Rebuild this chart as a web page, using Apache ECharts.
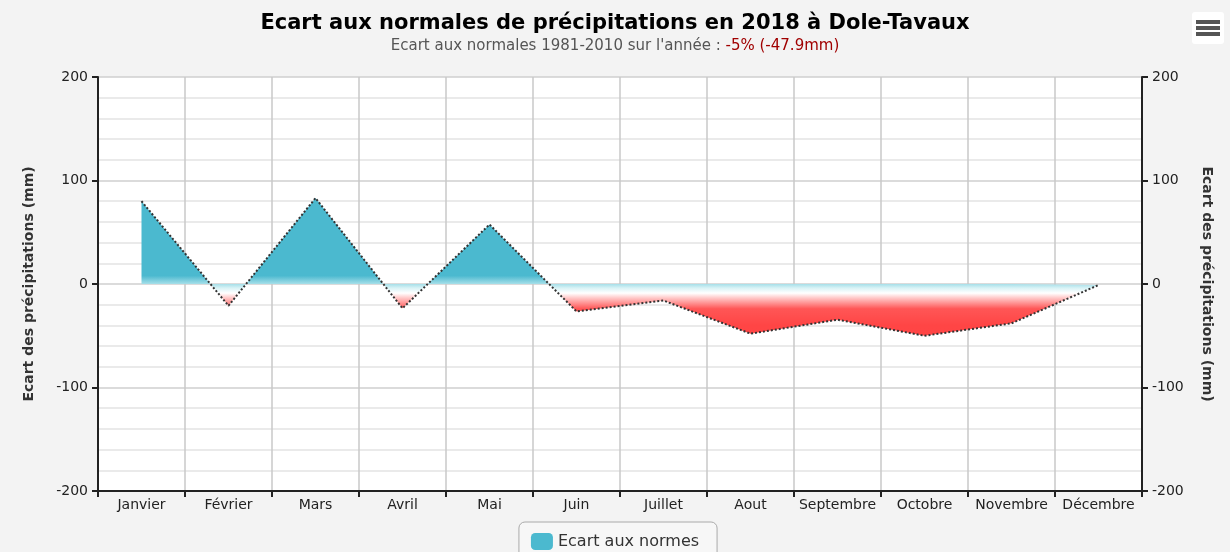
<!DOCTYPE html>
<html>
<head>
<meta charset="utf-8">
<script src="https://cdn.jsdelivr.net/npm/echarts@6/dist/echarts.min.js"></script>
<style>
html, body { margin: 0; padding: 0; background: #f3f3f3; }
#chart1 { width: 1230px; height: 552px; }
</style>
</head>
<body>
<div id="chart1"></div>
<script>
var mois = ['Janvier', 'Février', 'Mars', 'Avril', 'Mai', 'Juin', 'Juillet', 'Aout', 'Septembre', 'Octobre', 'Novembre', 'Décembre'];
var ecart = [80, -21, 83, -23.5, 57.5, -26.5, -16, -48, -34.5, -50, -38, -1];
var yMin = -200, yMax = 200, yStep = 100;

var police = 'DejaVu Sans';
var myChart1 = echarts.init(document.getElementById('chart1'));

// gradient en pixels : bleu au-dessus de 0, rouge en dessous
var degrade = new echarts.graphic.LinearGradient(0, 77, 0, 491, [
    { offset: 0, color: '#4bb9cf' },
    { offset: 0.48, color: '#4bb9cf' },
    { offset: 0.5, color: '#a6dfe9' },
    { offset: 0.51, color: '#d9f3f6' },
    { offset: 0.522, color: '#ffffff' },
    { offset: 0.535, color: '#ffc2c2' },
    { offset: 0.56, color: '#ff5656' },
    { offset: 0.6, color: '#ff4545' },
    { offset: 1, color: '#ff4040' }
], true);

function axeY(pos) {
    return {
        type: 'value',
        position: pos,
        min: yMin,
        max: yMax,
        interval: yStep,
        name: 'Ecart des précipitations (mm)',
        nameLocation: 'middle',
        nameRotate: pos === 'left' ? 90 : -90,
        nameGap: pos === 'left' ? 62 : 58,
        nameTextStyle: { fontFamily: police, fontWeight: 'bold', fontSize: 14, color: '#333' },
        axisLine: { show: true, onZero: false, lineStyle: { color: '#222', width: 2 } },
        axisTick: { show: true, length: 6, lineStyle: { color: '#222', width: 2 } },
        axisLabel: { fontFamily: police, fontSize: 14, color: '#222', margin: 10 },
        splitLine: { show: pos === 'left', lineStyle: { color: '#cfcfcf', width: 1.5 } },
        minorTick: { show: false, splitNumber: 5 },
        minorSplitLine: { show: pos === 'left', lineStyle: { color: '#e3e3e3', width: 1.5 } }
    };
}

myChart1.setOption({
    backgroundColor: '#f3f3f3',
    title: {
        text: 'Ecart aux normales de précipitations en 2018 à Dole-Tavaux',
        subtext: "{g|Ecart aux normales 1981-2010 sur l'année : }{r|-5% (-47.9mm)}",
        left: 'center',
        top: 8,
        itemGap: 5,
        textStyle: { fontFamily: police, fontWeight: 'bold', fontSize: 21, color: '#000' },
        subtextStyle: {
            rich: {
                g: { fontFamily: police, fontSize: 15, color: '#555' },
                r: { fontFamily: police, fontSize: 15, color: '#a00000' }
            }
        }
    },
    grid: {
        left: 98, right: 88, top: 77, bottom: 61,
        show: true, backgroundColor: '#ffffff', borderWidth: 0
    },
    legend: {
        bottom: -16,
        left: 'center',
        data: ['Ecart aux normes'],
        icon: 'roundRect',
        itemWidth: 22,
        itemHeight: 17,
        itemGap: 8,
        borderColor: '#aaa',
        borderWidth: 1,
        borderRadius: 6,
        padding: [11, 18, 18, 12],
        backgroundColor: '#f7f7f7',
        textStyle: { fontFamily: police, fontSize: 16, color: '#333' }
    },
    xAxis: {
        type: 'category',
        data: mois,
        boundaryGap: true,
        axisLine: { onZero: false, lineStyle: { color: '#222', width: 2 } },
        axisTick: { show: true, length: 6, lineStyle: { color: '#222', width: 2 } },
        axisLabel: { fontFamily: police, fontSize: 14, color: '#222', margin: 7, interval: 0 },
        splitLine: { show: true, lineStyle: { color: '#c8c8c8', width: 1.5 } }
    },
    yAxis: [axeY('left'), axeY('right')],
    series: [{
        name: 'Ecart aux normes',
        type: 'line',
        data: ecart,
        symbol: 'none',
        itemStyle: { color: '#4bb9cf' },
        lineStyle: { color: '#333', width: 2, type: 'dotted' },
        areaStyle: { color: degrade, opacity: 1 }
    }],
    graphic: [{
        type: 'group',
        right: 6,
        top: 12,
        children: [
            { type: 'rect', shape: { x: 0, y: 0, width: 32, height: 32, r: 3 }, style: { fill: '#ffffff' } },
            { type: 'rect', shape: { x: 4, y: 8, width: 24, height: 4 }, style: { fill: '#555' } },
            { type: 'rect', shape: { x: 4, y: 14, width: 24, height: 4 }, style: { fill: '#555' } },
            { type: 'rect', shape: { x: 4, y: 20, width: 24, height: 4 }, style: { fill: '#555' } }
        ]
    }]
});
</script>
</body>
</html>
